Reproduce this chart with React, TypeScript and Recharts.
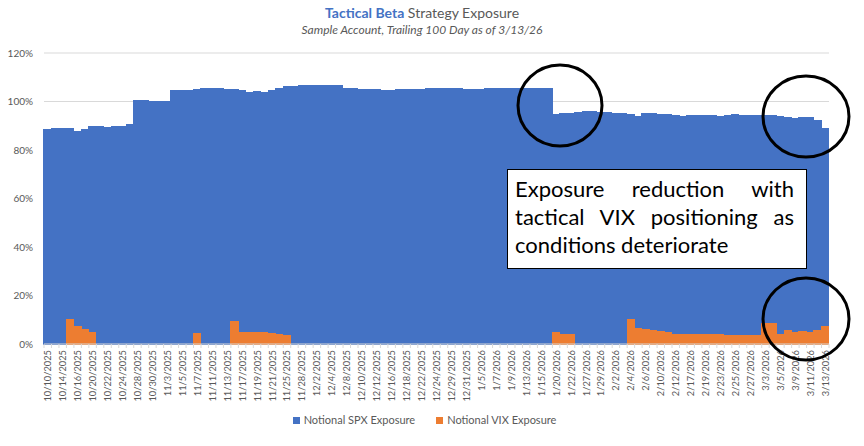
import React from 'react';
import { BarChart, Bar, XAxis, YAxis, CartesianGrid } from 'recharts';

const dates = [
  '10/10/2025', '10/13/2025', '10/14/2025', '10/15/2025', '10/16/2025', '10/17/2025', '10/20/2025', '10/21/2025',
  '10/22/2025', '10/23/2025', '10/24/2025', '10/27/2025', '10/28/2025', '10/29/2025', '10/30/2025', '10/31/2025',
  '11/3/2025', '11/4/2025', '11/5/2025', '11/6/2025', '11/7/2025', '11/10/2025', '11/11/2025', '11/12/2025',
  '11/13/2025', '11/14/2025', '11/17/2025', '11/18/2025', '11/19/2025', '11/20/2025', '11/21/2025', '11/24/2025',
  '11/25/2025', '11/26/2025', '11/28/2025',
  '12/1/2025', '12/2/2025', '12/3/2025', '12/4/2025', '12/5/2025', '12/8/2025', '12/9/2025', '12/10/2025',
  '12/11/2025', '12/12/2025', '12/15/2025', '12/16/2025', '12/17/2025', '12/18/2025', '12/19/2025', '12/22/2025',
  '12/23/2025', '12/24/2025', '12/26/2025', '12/29/2025', '12/30/2025', '12/31/2025',
  '1/2/2026', '1/5/2026', '1/6/2026', '1/7/2026', '1/8/2026', '1/9/2026', '1/12/2026', '1/13/2026',
  '1/14/2026', '1/15/2026', '1/16/2026', '1/20/2026', '1/21/2026', '1/22/2026', '1/26/2026', '1/27/2026',
  '1/28/2026', '1/29/2026', '1/30/2026',
  '2/2/2026', '2/3/2026', '2/4/2026', '2/5/2026', '2/6/2026', '2/9/2026', '2/10/2026', '2/11/2026',
  '2/12/2026', '2/13/2026', '2/17/2026', '2/18/2026', '2/19/2026', '2/20/2026', '2/23/2026', '2/24/2026',
  '2/25/2026', '2/26/2026', '2/27/2026',
  '3/2/2026', '3/3/2026', '3/4/2026', '3/5/2026', '3/6/2026', '3/9/2026', '3/10/2026', '3/11/2026',
  '3/12/2026', '3/13/2026',
];

const spxExposure = [
  88.3, 89.0, 89.0, 88.7, 87.7, 88.3, 89.5, 89.5, 89.2, 89.5,
  89.7, 90.5, 100.5, 100.3, 100.0, 100.0, 100.0, 104.7, 104.7, 104.4,
  104.8, 105.5, 105.5, 105.5, 105.0, 105.1, 104.4, 103.7, 104.0, 103.7,
  104.3, 105.5, 106.0, 106.0, 106.4,
  106.4, 106.7, 106.7, 106.7, 106.6, 105.2, 105.2, 105.0, 105.0, 105.0,
  104.7, 104.6, 104.8, 104.8, 104.8, 104.8, 105.2, 105.2, 105.2, 105.2,
  105.2, 104.9, 104.9, 104.9, 105.2, 105.2, 105.2, 105.4, 105.4, 105.4,
  105.4, 105.4, 105.4,
  94.4, 94.9, 95.0, 95.3, 95.8, 95.8, 95.3, 95.3, 95.2, 94.9,
  94.5, 93.9, 94.9, 95.2, 94.8, 94.8, 94.2, 93.9, 94.2, 94.3,
  94.3, 94.2, 93.8, 94.3, 94.6, 94.2, 94.2, 94.2, 94.2, 94.1,
  93.9, 93.3, 92.9, 93.4, 93.2, 92.3, 88.8,
];

const vixExposure = [
  0, 0, 0, 10.2, 7.1, 6.0, 4.7, 0, 0, 0,
  0, 0, 0, 0, 0, 0, 0, 0, 0, 0,
  4.1, 0, 0, 0, 0, 9.3, 4.8, 4.9, 4.9, 4.7,
  4.1, 3.7, 3.3, 0, 0, 0, 0, 0, 0, 0,
  0, 0, 0, 0, 0, 0, 0, 0, 0, 0,
  0, 0, 0, 0, 0, 0, 0, 0, 0, 0,
  0, 0, 0, 0, 0, 0, 0, 0, 4.9, 3.9,
  3.9, 0, 0, 0, 0, 0, 0, 0, 9.9, 6.5,
  5.8, 5.5, 5.2, 4.9, 3.8, 4.0, 3.7, 3.7, 3.7, 3.7,
  4.0, 3.6, 3.3, 3.3, 3.6, 3.6, 8.6, 8.3, 4.0, 5.6,
  4.7, 5.2, 4.9, 5.6, 7.1,
];

const yTicks = [0, 20, 40, 60, 80, 100, 120];
const seriesNames = ['Notional SPX Exposure', 'Notional VIX Exposure'];
const titleBold = 'Tactical Beta';
const titleRest = ' Strategy Exposure';
const subtitleText = 'Sample Account, Trailing 100 Day as of 3/13/26';
const annotationText = 'Exposure reduction with tactical VIX positioning as conditions deteriorate';

const data = dates.map((d, i) => ({ date: d, spx: spxExposure[i], vix: vixExposure[i] }));

const W = 864;
const H = 446;
const PLOT_LEFT = 44;
const PLOT_RIGHT = 829;
const PLOT_TOP = 53;
const PLOT_BOTTOM = 344;
const HALF = (PLOT_RIGHT - PLOT_LEFT) / dates.length / 2;
const FONT = "Lato, 'Liberation Sans', sans-serif";
const BLUE = '#4472C4';
const ORANGE = '#ED7D31';
const GREY = '#595959';

function XTick(props: any) {
  const { x, y, payload } = props;
  const i = props.index ?? payload.index;
  return (
    <g>
      <line x1={x - HALF} x2={x - HALF} y1={y} y2={y + 4} stroke="#d9d9d9" />
      {i === dates.length - 1 && <line x1={x + HALF} x2={x + HALF} y1={y} y2={y + 4} stroke="#d9d9d9" />}
      {i % 2 === 0 && (
        <text
          x={x}
          y={y + 6}
          transform={`rotate(-90, ${x}, ${y + 6})`}
          textAnchor="end"
          dominantBaseline="central"
          fontSize={9.3}
          fill={GREY}
          fontFamily={FONT}
        >
          {payload.value}
        </text>
      )}
    </g>
  );
}

export default function App() {
  return (
    <div style={{ position: 'absolute', left: 0, top: 0, width: W, height: H, background: '#fff', overflow: 'hidden' }}>
      <BarChart
        width={W}
        height={H}
        data={data}
        margin={{ top: PLOT_TOP, right: W - PLOT_RIGHT, bottom: 0, left: 0 }}
        barCategoryGap={0}
        barGap={0}
      >
        <CartesianGrid xAxisId="spx" vertical={false} stroke="#d9d9d9" />
        <XAxis
          xAxisId="spx"
          dataKey="date"
          interval={0}
          height={H - PLOT_BOTTOM}
          tickSize={0}
          tickMargin={0}
          tickLine={false}
          axisLine={{ stroke: '#d9d9d9' }}
          tick={<XTick />}
        />
        <XAxis xAxisId="vix" dataKey="date" hide />
        <YAxis
          domain={[0, 120]}
          ticks={yTicks}
          tickFormatter={(v: number) => `${v}%`}
          axisLine={false}
          tickLine={false}
          tickSize={0}
          tickMargin={11}
          width={PLOT_LEFT}
          tick={{ fontSize: 10, fill: GREY, fontFamily: FONT }}
        />
        <Bar
          xAxisId="spx"
          dataKey="spx"
          name={seriesNames[0]}
          fill={BLUE}
          stroke={BLUE}
          strokeWidth={1.2}
          shapeRendering="crispEdges"
          isAnimationActive={false}
        />
        <Bar
          xAxisId="vix"
          dataKey="vix"
          name={seriesNames[1]}
          fill={ORANGE}
          stroke={ORANGE}
          strokeWidth={1.2}
          shapeRendering="crispEdges"
          isAnimationActive={false}
        />
      </BarChart>

      <svg width={W} height={H} style={{ position: 'absolute', left: 0, top: 0, pointerEvents: 'none' }}>
        <text x={422} y={18} textAnchor="middle" fontSize={14} fontFamily={FONT} style={{ whiteSpace: 'pre' }}>
          <tspan fontWeight="bold" fill={BLUE}>{titleBold}</tspan>
          <tspan fill={GREY}>{titleRest}</tspan>
        </text>
        <text x={422} y={34} textAnchor="middle" fontSize={12} fontStyle="italic" fill={GREY} fontFamily={FONT}>
          {subtitleText}
        </text>
        <ellipse cx={560} cy={105.5} rx={42} ry={40.5} fill="none" stroke="#000" strokeWidth={3} />
        <ellipse cx={806} cy={116.5} rx={43} ry={40.5} fill="none" stroke="#000" strokeWidth={3} />
        <ellipse cx={806} cy={319} rx={43} ry={41} fill="none" stroke="#000" strokeWidth={3} />
      </svg>

      <div
        style={{
          position: 'absolute',
          left: 507,
          top: 169,
          width: 300,
          height: 100,
          boxSizing: 'border-box',
          border: '1.5px solid #000',
          background: '#fff',
          padding: '5px 12px 0 7px',
          fontFamily: FONT,
          fontSize: 22,
          lineHeight: '28px',
          textAlign: 'justify',
          color: '#000',
        }}
      >
        {annotationText}
      </div>

      <div
        style={{
          position: 'absolute',
          left: 0,
          top: 413,
          width: 849,
          display: 'flex',
          justifyContent: 'center',
          gap: 21,
          fontFamily: FONT,
          fontSize: 11,
          color: GREY,
          lineHeight: '14px',
        }}
      >
        {seriesNames.map((n, i) => (
          <div key={n} style={{ display: 'flex', alignItems: 'center' }}>
            <span style={{ display: 'inline-block', width: 7, height: 7, background: i === 0 ? BLUE : ORANGE, marginRight: 4 }} />
            <span>{n}</span>
          </div>
        ))}
      </div>
    </div>
  );
}
